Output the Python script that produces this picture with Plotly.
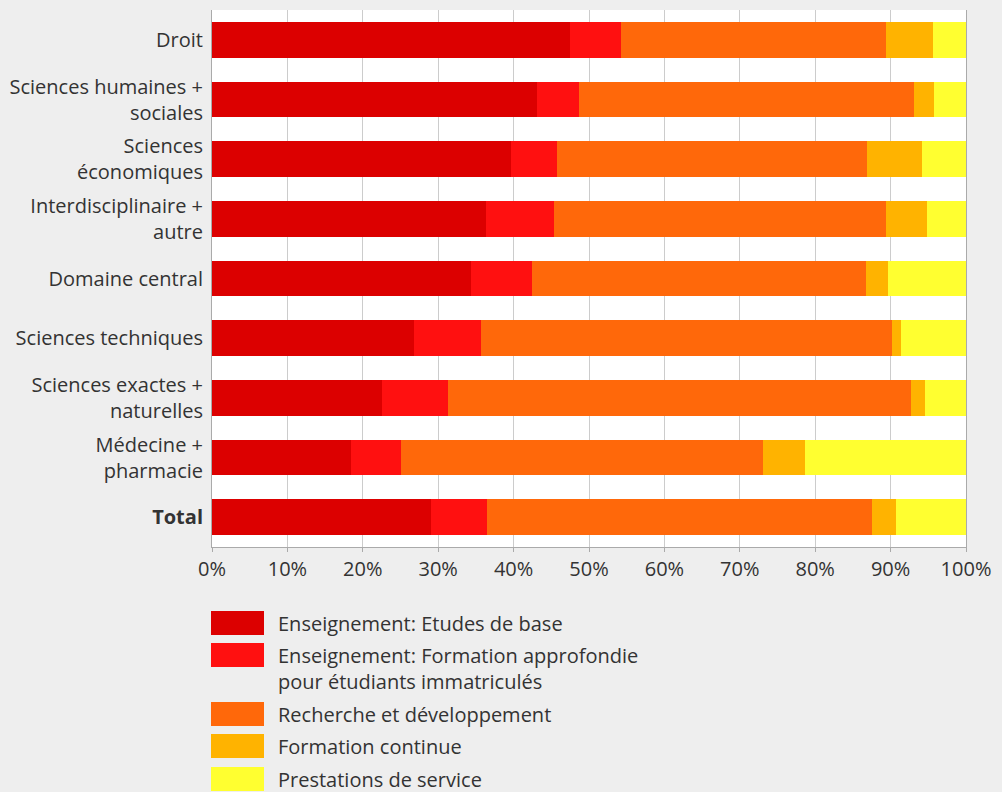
import plotly.graph_objects as go

categories = ["Droit", "Sciences humaines +<br>sociales", "Sciences<br>économiques",
              "Interdisciplinaire +<br>autre", "Domaine central", "Sciences techniques",
              "Sciences exactes +<br>naturelles", "Médecine +<br>pharmacie", "<b>Total</b>"]

etudes_base = [47.5, 43.1, 39.7, 36.3, 34.4, 26.8, 22.6, 18.4, 29.1]
formation_approfondie = [6.7, 5.6, 6.0, 9.1, 8.0, 8.9, 8.7, 6.6, 7.4]
recherche = [35.2, 44.4, 41.2, 44.0, 44.4, 54.5, 61.4, 48.1, 51.0]
formation_continue = [6.2, 2.7, 7.2, 5.4, 2.9, 1.2, 1.8, 5.6, 3.2]
prestations = [4.4, 4.2, 5.9, 5.2, 10.3, 8.6, 5.5, 21.3, 9.3]

series_names = ["Enseignement: Etudes de base",
                "Enseignement: Formation approfondie<br>pour étudiants immatriculés",
                "Recherche et développement",
                "Formation continue",
                "Prestations de service"]
series_values = [etudes_base, formation_approfondie, recherche, formation_continue, prestations]
colors = ["#DC0000", "#FF1010", "#FF680A", "#FFB300", "#FFFF30"]

tick_vals = [0, 10, 20, 30, 40, 50, 60, 70, 80, 90, 100]
tick_text = ["0%", "10%", "20%", "30%", "40%", "50%", "60%", "70%", "80%", "90%", "100%"]

W, H = 1002, 792
L, R, T, B = 212, 966, 10, 547

fig = go.Figure()
for name, vals, col in zip(series_names, series_values, colors):
    fig.add_trace(go.Bar(y=categories, x=vals, orientation="h", name=name,
                         marker=dict(color=col, line=dict(width=0)), width=0.6,
                         showlegend=False, hoverinfo="x+name"))

def px2paper(px, py):
    return (px - L) / (R - L), (B - py) / (B - T)

# custom legend
box_tops = [611, 643, 702, 734, 767]
shapes = []
annotations = []
for top, name, col in zip(box_tops, series_names, colors):
    x0, y0 = px2paper(211, top)
    x1, y1 = px2paper(264, top + 24)
    shapes.append(dict(type="rect", xref="paper", yref="paper", x0=x0, x1=x1, y0=y0, y1=y1,
                       fillcolor=col, line=dict(width=0), layer="above"))
    tx, ty = px2paper(276, top - 3)
    annotations.append(dict(xref="paper", yref="paper", x=tx, y=ty, text=name, showarrow=False,
                            xanchor="left", yanchor="top", align="left",
                            font=dict(size=20, color="#333333")))

fig.update_layout(
    barmode="stack",
    width=W, height=H,
    margin=dict(l=L, r=W - R, t=T, b=H - B, pad=0),
    paper_bgcolor="#EEEEEE",
    plot_bgcolor="#FFFFFF",
    font=dict(family="Open Sans", size=20, color="#333333"),
    shapes=shapes,
    annotations=annotations,
    xaxis=dict(range=[0, 100], tickvals=tick_vals, ticktext=tick_text,
               showgrid=True, gridcolor="#CCCCCC", gridwidth=1,
               showline=True, linecolor="#AAAAAA", linewidth=1,
               ticks="outside", ticklen=4, tickcolor="#AAAAAA",
               tickfont=dict(size=20, color="#333333"), zeroline=False, fixedrange=True),
    yaxis=dict(categoryorder="array", categoryarray=categories, autorange="reversed",
               showline=True, linecolor="#AAAAAA", linewidth=1, mirror=True,
               ticks="", ticklabelstandoff=4, tickfont=dict(size=20, color="#333333"),
               showgrid=False, fixedrange=True),
)

fig.write_html("out.html", config={"displayModeBar": False},
               post_script="document.body.style.margin='0';document.body.style.overflow='hidden';"
                           "document.body.style.background='#EEEEEE';")
